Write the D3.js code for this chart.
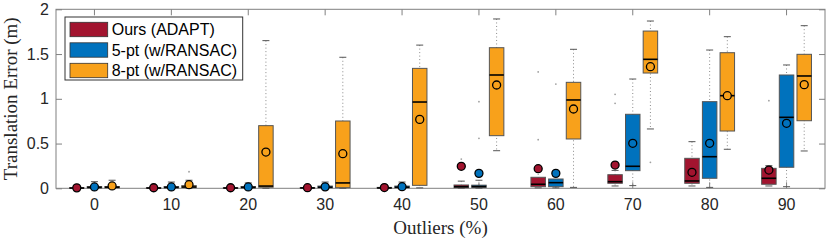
<!DOCTYPE html>
<html>
<head>
<meta charset="utf-8">
<script src="https://cdn.jsdelivr.net/npm/d3@7"></script>
<style>
  body { margin: 0; background: #fff; }
</style>
</head>
<body>
<div id="chart"></div>
<script>
const categories = ["0", "10", "20", "30", "40", "50", "60", "70", "80", "90"]
const seriesNames = ["Ours (ADAPT)", "5-pt (w/RANSAC)", "8-pt (w/RANSAC)"]
const seriesColors = ["#A2142F", "#0072BD", "#F8A11B"]
const yTicks = [0, 0.5, 1, 1.5, 2]

// each box: [whisker low, q1, median, q3, whisker high]
const oursBox = [
    [0, 0.001, 0.003, 0.006, 0.012], [0, 0.001, 0.003, 0.006, 0.012], [0, 0.001, 0.003, 0.006, 0.012],
    [0, 0.002, 0.004, 0.008, 0.015], [0, 0.002, 0.004, 0.01, 0.02], [0.002, 0.007, 0.018, 0.037, 0.08],
    [0.005, 0.018, 0.045, 0.123, 0.2], [0.026, 0.056, 0.074, 0.152, 0.2], [0.026, 0.056, 0.082, 0.335, 0.521],
    [0.026, 0.045, 0.112, 0.223, 0.253]
]
const oursMean = [0.005, 0.006, 0.006, 0.007, 0.008, 0.246, 0.219, 0.26, 0.179, 0.204]
const oursOutliers = [[], [], [], [], [], [0.327], [1.30, 0.543], [1.05, 0.95], [], [0.979]]

const fivePtBox = [
    [0, 0.005, 0.01, 0.02, 0.074], [0, 0.005, 0.01, 0.02, 0.07], [0, 0.005, 0.01, 0.02, 0.06],
    [0, 0.006, 0.012, 0.025, 0.07], [0, 0.006, 0.012, 0.025, 0.07], [0.002, 0.01, 0.02, 0.035, 0.09],
    [0.005, 0.018, 0.063, 0.104, 0.14], [0.03, 0.197, 0.246, 0.827, 1.221], [0.01, 0.112, 0.353, 0.968, 1.545],
    [0.018, 0.235, 0.793, 1.266, 1.378]
]
const fivePtMean = [0.015, 0.015, 0.015, 0.016, 0.018, 0.167, 0.167, 0.503, 0.503, 0.726]
const fivePtOutliers = [[], [], [], [], [], [0.968, 0.558], [1.165], [], [], []]

const eightPtBox = [
    [0, 0.005, 0.012, 0.02, 0.09], [0, 0.008, 0.015, 0.03, 0.09], [0, 0.012, 0.025, 0.70, 1.65],
    [0, 0.007, 0.06, 0.752, 1.464], [0.005, 0.033, 0.964, 1.34, 1.60], [0.42, 0.588, 1.266, 1.571, 1.892],
    [0.01, 0.551, 0.987, 1.184, 1.553], [0.663, 1.288, 1.441, 1.757, 1.869], [0.436, 0.64, 1.035, 1.515, 1.694],
    [0.417, 0.755, 1.255, 1.497, 1.817]
]
const eightPtMean = [0.026, 0.04, 0.405, 0.387, 0.77, 1.154, 0.886, 1.359, 1.035, 1.158]
const eightPtOutliers = [[], [0.185], [], [], [], [], [], [0.29], [], []]

const boxes = [oursBox, fivePtBox, eightPtBox]
const means = [oursMean, fivePtMean, eightPtMean]
const outliers = [oursOutliers, fivePtOutliers, eightPtOutliers]

// flat table for drawing
const rows = []
seriesNames.forEach((s, si) => {
    categories.forEach((c, ci) => {
        const b = boxes[si][ci]
        rows.push({ cat: c, series: s, color: seriesColors[si], lo: b[0], q1: b[1], med: b[2], q3: b[3], hi: b[4],
            mean: means[si][ci], out: outliers[si][ci] })
    })
})

const sansFont = "'Liberation Sans', Arial, sans-serif"
const serifFont = "'Liberation Serif', 'Times New Roman', serif"

let margin = { top: 9.3, right: 5, bottom: 54.7, left: 56 },
    width = 830 - margin.left - margin.right,
    height = 243 - margin.top - margin.bottom;

const svg = d3.select("#chart")
    .append("svg")
    .attr("width", 830)
    .attr("height", 243)
    .append("g")
    .attr("transform", `translate(${margin.left}, ${margin.top})`);

/* scales */
const x = d3.scaleBand().domain(categories).range([0, width]).padding(0)
const sub = d3.scaleBand().domain(seriesNames).range([-26.5, 26.5]).padding(0)
const y = d3.scaleLinear().domain([0, 2]).range([height, 0])
const boxW = sub.bandwidth() * 0.82
const cx = d => x(d.cat) + x.bandwidth() / 2 + sub(d.series) + sub.bandwidth() / 2

/* axes */
const axisColor = "#808080"
const styleAxis = g => {
    g.select(".domain").remove()
    g.selectAll("line").attr("stroke", axisColor)
    g.selectAll("text").attr("font-size", 16).attr("fill", "#262626")
        .style("font-family", sansFont)
}
svg.append("g").attr("transform", `translate(0, ${height})`)
    .call(d3.axisBottom(x).tickSizeInner(-6).tickSizeOuter(0).tickPadding(10)).call(styleAxis)
svg.append("g")
    .call(d3.axisTop(x).tickSizeInner(-6).tickSizeOuter(0).tickFormat("")).call(styleAxis)
svg.append("g")
    .call(d3.axisLeft(y).tickValues(yTicks).tickFormat(d3.format("~g")).tickSizeInner(-6).tickSizeOuter(0).tickPadding(7))
    .call(styleAxis)
svg.append("g").attr("transform", `translate(${width}, 0)`)
    .call(d3.axisRight(y).tickValues(yTicks).tickSizeInner(-6).tickSizeOuter(0).tickFormat("")).call(styleAxis)
svg.append("rect")
    .attr("width", width).attr("height", height)
    .attr("fill", "none").attr("stroke", axisColor).attr("stroke-width", 1)

/* boxes */
const g = svg.selectAll(".bx").data(rows).enter().append("g").attr("class", "bx")

g.append("line")
    .attr("x1", cx).attr("x2", cx)
    .attr("y1", d => y(d.hi)).attr("y2", d => y(d.lo))
    .attr("stroke", "#8a8a8a").attr("stroke-width", 1).attr("stroke-dasharray", "1,2.5")
g.selectAll(".cap").data(d => [d, d].map((e, i) => ({ x: cx(e), v: i ? e.lo : e.hi }))).enter()
    .append("line")
    .attr("x1", e => e.x - 3.5).attr("x2", e => e.x + 3.5)
    .attr("y1", e => y(e.v)).attr("y2", e => y(e.v))
    .attr("stroke", "#555").attr("stroke-width", 1)
g.append("rect")
    .attr("x", d => cx(d) - boxW / 2).attr("width", boxW)
    .attr("y", d => y(d.q3)).attr("height", d => y(d.q1) - y(d.q3))
    .attr("fill", d => d.color).attr("stroke", "#555").attr("stroke-width", 1)
g.append("line")
    .attr("x1", d => cx(d) - boxW / 2).attr("x2", d => cx(d) + boxW / 2)
    .attr("y1", d => y(d.med)).attr("y2", d => y(d.med))
    .attr("stroke", "#000").attr("stroke-width", 1.6)
g.selectAll(".out").data(d => d.out.map(v => ({ x: cx(d), v }))).enter()
    .append("circle")
    .attr("cx", e => e.x).attr("cy", e => y(e.v)).attr("r", 0.9)
    .attr("fill", "#a0a0a0")
g.append("circle")
    .attr("cx", cx).attr("cy", d => y(d.mean)).attr("r", 4)
    .attr("fill", d => d.color).attr("stroke", "#000").attr("stroke-width", 1.3)

/* legend */
const leg = svg.append("g").attr("transform", `translate(${65 - margin.left}, ${17 - margin.top})`)
leg.append("rect").attr("width", 177.7).attr("height", 63)
    .attr("fill", "#fff").attr("stroke", "#333").attr("stroke-width", 1)
seriesNames.forEach((s, i) => {
    leg.append("rect")
        .attr("x", 5).attr("y", 5.3 + i * 20.5).attr("width", 37.7).attr("height", 14.4)
        .attr("fill", seriesColors[i]).attr("stroke", "#333").attr("stroke-width", 0.8)
    leg.append("text")
        .attr("x", 46.7).attr("y", 12.5 + i * 20.5).attr("dy", "0.35em")
        .attr("font-size", 16).attr("fill", "#000")
        .style("font-family", sansFont)
        .text(s)
})

/* axis titles */
svg.append("text")
    .attr("text-anchor", "middle")
    .attr("x", width / 2)
    .attr("y", height + 46)
    .style("font-family", serifFont)
    .attr("font-size", 19)
    .attr("fill", "#262626")
    .text("Outliers (%)")
svg.append("text")
    .attr("text-anchor", "middle")
    .attr("transform", `translate(${17 - margin.left}, ${height / 2}) rotate(-90)`)
    .style("font-family", serifFont)
    .attr("font-size", 19)
    .attr("fill", "#262626")
    .text("Translation Error (m)")
</script>
</body>
</html>
